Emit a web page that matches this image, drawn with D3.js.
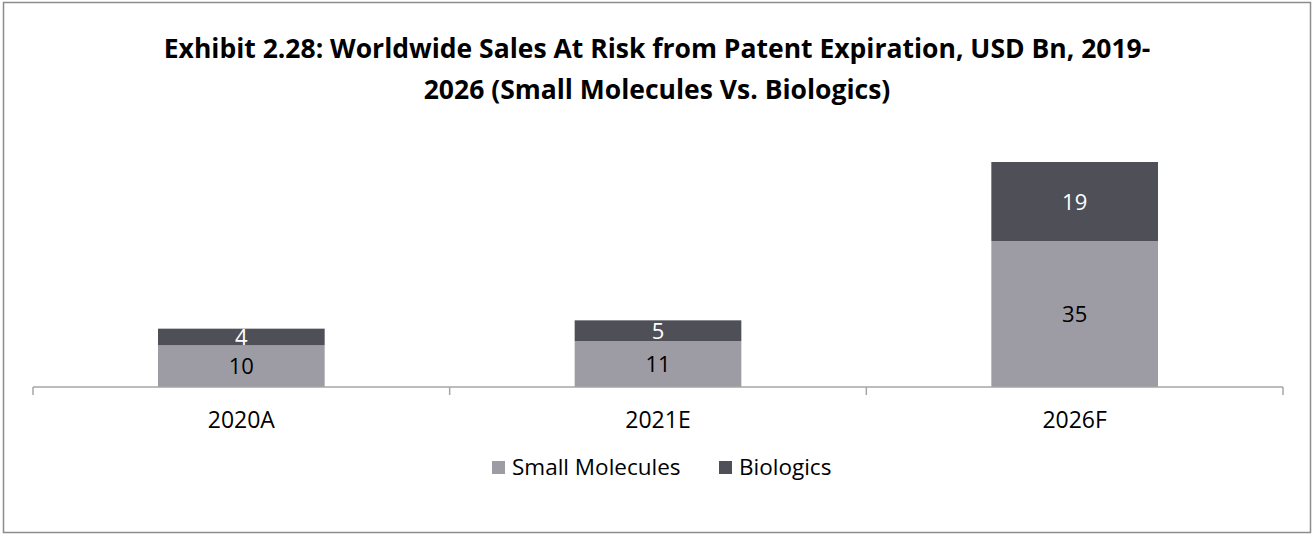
<!DOCTYPE html>
<html>
<head>
<meta charset="utf-8">
<script src="https://cdn.jsdelivr.net/npm/d3@7"></script>
<style>
  body { margin: 0; background: #fff; }
  svg { display: block; font-family: "Open Sans", "Noto Sans", sans-serif; }
</style>
</head>
<body>
<div id="chart"></div>
<script>
// chart values
var categories = ["2020A", "2021E", "2026F"];
var smallMolecules = [10, 11, 35];
var biologics = [4, 5, 19];
var seriesNames = ["Small Molecules", "Biologics"];
var titleLines = ["Exhibit 2.28: Worldwide Sales At Risk from Patent Expiration, USD Bn, 2019-",
                  "2026 (Small Molecules Vs. Biologics)"];

var W = 1314, H = 534;
var colors = { "Small Molecules": "#9d9ca4", "Biologics": "#4e4f57" };

var svg = d3.select("#chart").append("svg")
    .attr("width", W)
    .attr("height", H);

// outer frame
svg.append("rect")
    .attr("x", 3.5).attr("y", 2.5)
    .attr("width", 1307).attr("height", 530)
    .attr("fill", "#fff")
    .attr("stroke", "#8c8c8c")
    .attr("stroke-width", 1.5);

// title, two lines like the original
svg.append("g").attr("class", "title")
  .selectAll("text")
    .data(titleLines)
    .enter().append("text")
    .attr("x", 657)
    .attr("y", function (d, i) { return 58 + i * 41; })
    .attr("text-anchor", "middle")
    .attr("font-weight", "bold")
    .attr("font-size", 26.5)
    .attr("fill", "#000")
    .text(function (d) { return d; });

// scales
var x = d3.scaleBand().domain(categories).range([33, 1283]).paddingInner(0.6).paddingOuter(0.3);
var y = d3.scaleLinear().domain([0, 60]).range([387, 137]);

var rows = categories.map(function (c, i) {
    return { cat: c, "Small Molecules": smallMolecules[i], "Biologics": biologics[i] };
});
var stacked = d3.stack().keys(seriesNames)(rows);

var layers = svg.selectAll(".layer")
    .data(stacked)
    .enter().append("g")
    .attr("class", "layer")
    .attr("fill", function (d) { return colors[d.key]; });

layers.selectAll("rect")
    .data(function (d) { return d; })
    .enter().append("rect")
    .attr("x", function (d) { return x(d.data.cat); })
    .attr("width", x.bandwidth())
    .attr("y", function (d) { return y(d[1]); })
    .attr("height", function (d) { return y(d[0]) - y(d[1]); });

// value labels (white on the dark segment)
layers.selectAll("text")
    .data(function (d) { return d.map(function (v) { v.key = d.key; return v; }); })
    .enter().append("text")
    .attr("x", function (d) { return x(d.data.cat) + x.bandwidth() / 2; })
    .attr("y", function (d) { return (y(d[0]) + y(d[1])) / 2; })
    .attr("dy", "0.36em")
    .attr("text-anchor", "middle")
    .attr("font-size", 22)
    .attr("fill", function (d) { return d.key === "Biologics" ? "#fff" : "#000"; })
    .text(function (d) { return d[1] - d[0]; });

// x axis, ticks sit between categories
var axisG = svg.append("g").attr("class", "axis");
axisG.append("line")
    .attr("x1", 33).attr("x2", 1283)
    .attr("y1", 387).attr("y2", 387)
    .attr("stroke", "#a6a6a6").attr("stroke-width", 1.5);
var bounds = d3.range(categories.length + 1).map(function (i) {
    return i < categories.length ? x(categories[i]) - x.step() * x.paddingInner() / 2 : 1283;
});
bounds[0] = 33;
axisG.selectAll(".tick-line")
    .data(bounds)
    .enter().append("line")
    .attr("x1", function (d) { return d; }).attr("x2", function (d) { return d; })
    .attr("y1", 387).attr("y2", 395)
    .attr("stroke", "#a6a6a6").attr("stroke-width", 1.5);
axisG.selectAll(".tick-label")
    .data(categories)
    .enter().append("text")
    .attr("x", function (d) { return x(d) + x.bandwidth() / 2; })
    .attr("y", 428)
    .attr("text-anchor", "middle")
    .attr("font-size", 23)
    .attr("fill", "#000")
    .text(function (d) { return d; });

// legend
var legendX = [492, 719];
var legend = svg.selectAll(".legend")
    .data(seriesNames)
    .enter().append("g")
    .attr("class", "legend")
    .attr("transform", function (d, i) { return "translate(" + legendX[i] + ",461)"; });
legend.append("rect")
    .attr("width", 13).attr("height", 13)
    .attr("fill", function (d) { return colors[d]; });
legend.append("text")
    .attr("x", 20).attr("y", 14)
    .attr("font-size", 22.5)
    .attr("fill", "#000")
    .text(function (d) { return d; });
</script>
</body>
</html>
